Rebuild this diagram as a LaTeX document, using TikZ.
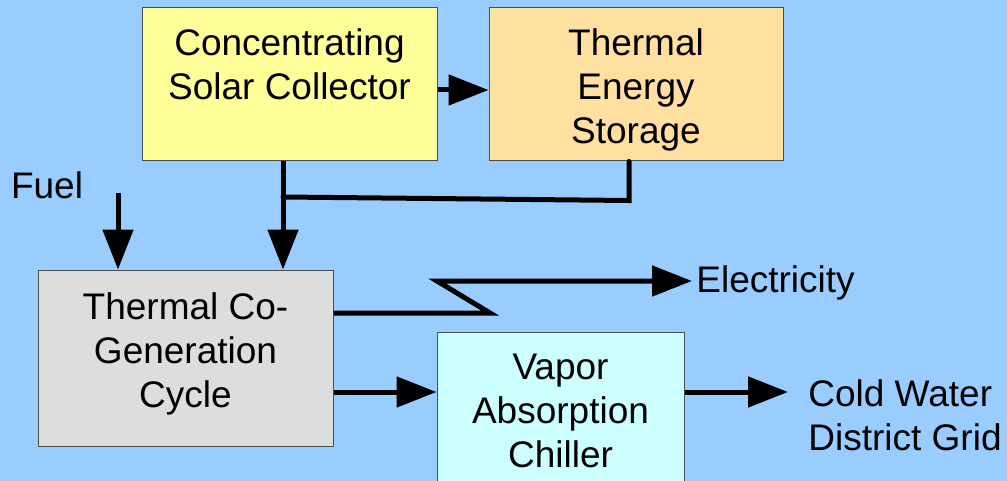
\documentclass[tikz,border=0pt]{standalone}
\usepackage{fontspec}
\setmainfont{Liberation Sans}
\usetikzlibrary{arrows.meta}
\definecolor{bgblue}{HTML}{99CCFF}
\definecolor{solaryellow}{HTML}{FFFF99}
\definecolor{storagepeach}{HTML}{FFE0A0}
\definecolor{cyclegray}{HTML}{DDDDDD}
\definecolor{chillercyan}{HTML}{CCFFFF}
\begin{document}
\begin{tikzpicture}[x=0.5pt,y=-0.5pt]

\tikzset{box/.style = {shape=rectangle,draw=black!70,line width=0.5pt,align=center,font=\fontsize{18.5pt}{22pt}\selectfont}}
\tikzset{txt/.style = {align=left,inner sep=2pt,font=\fontsize{18.5pt}{22pt}\selectfont}}
\tikzset{flow/.style = {line width=2.5pt,-{Triangle[length=20pt,width=15pt]}}}
\tikzset{pipe/.style = {line width=2.5pt,line cap=round}}
% background
\fill[bgblue] (0,0) rectangle (1007,481);
\useasboundingbox (0,0) rectangle (1007,481);
\clip (0,0) rectangle (1007,481);
% vertices
\node[box,fill=solaryellow,minimum width=147.5pt,minimum height=76.5pt] (solar) at (289.5,84.5) {Concentrating\\Solar Collector\\[-8pt]\strut};
\node[box,fill=storagepeach,minimum width=147pt,minimum height=76.5pt] (tes) at (636,84.5) {\mbox{}\\[-3pt]Thermal\\Energy\\Storage};
\node[box,fill=cyclegray,minimum width=147.5pt,minimum height=88pt] (cogen) at (185.5,358) {Thermal Co-\\Generation\\Cycle\\[-14pt]\mbox{}};
\node[box,fill=chillercyan,minimum width=123.5pt,minimum height=79pt] (chiller) at (560.5,411) {Vapor\\Absorption\\Chiller};
\node[txt] (fuel) at (47,185) {Fuel};
\node[txt,anchor=west] (elec) at (692,283) {Electricity};
\node[txt,anchor=west] (grid) at (804,415) {Cold Water\\District Grid};
\coordinate (fuelin) at (118,193);
\coordinate (join) at (283,197);
%edges
\draw[flow] ([yshift=-2.75pt]solar.east) -- ([yshift=-2.75pt]solar.east -| tes.west);
\draw[flow] (join |- solar.south) -- (join |- cogen.north);
\draw[pipe] ([xshift=-3.5pt]tes.south) -- ++(0,39) -- (join);
\draw[flow] (fuelin) -- (fuelin |- cogen.north);
\draw[flow] (cogen.east |- 0,313) -- (490,313) -- (437,281) -- (elec.west |- 0,281);
\draw[flow] (cogen.east |- 0,392) -- (chiller.west |- 0,392);
\draw[flow,shorten >=8pt] (chiller.east |- 0,392) -- (grid.west |- 0,392);
\end{tikzpicture}
\end{document}
